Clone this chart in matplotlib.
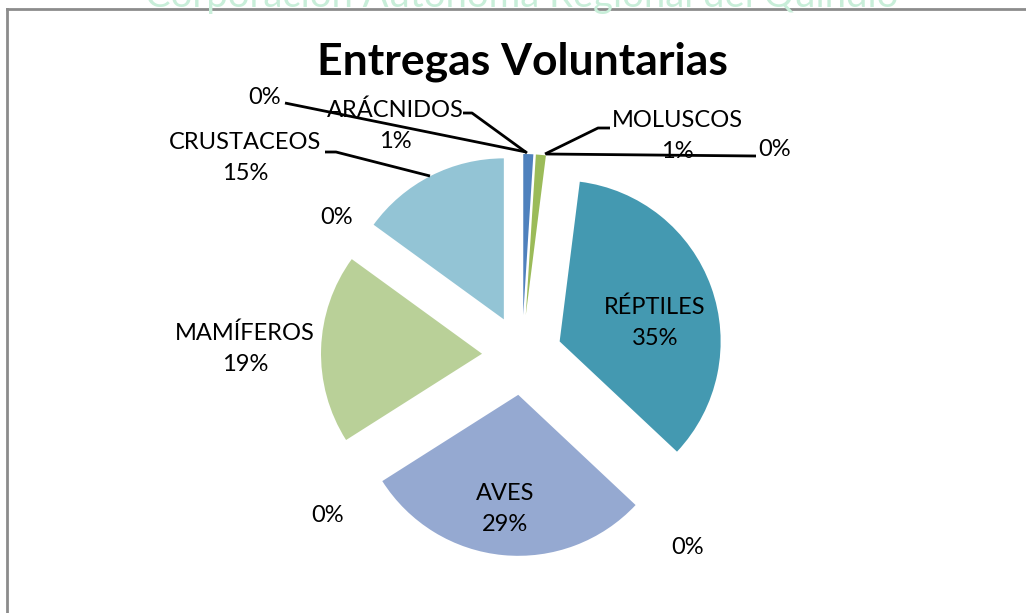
import matplotlib
matplotlib.use("Agg")
import matplotlib.pyplot as plt

# data (Excel exploded pie, clockwise from 12 o'clock)
categories = ["ARÁCNIDOS", "", "MOLUSCOS", "", "RÉPTILES", "", "AVES", "",
              "MAMÍFEROS", "", "CRUSTACEOS"]
shares = [1, 0, 1, 0, 35, 0, 29, 0, 19, 0, 15]
colors = ["#4F81BD", "#C0504D", "#9BBB59", "#8064A2", "#4499B1", "#F79646",
          "#95A9D1", "#D99694", "#B9D098", "#B3A2C7", "#93C4D5"]
title = "Entregas Voluntarias"
watermark = "Corporación Autónoma Regional del Quindío"

W, H = 1026, 613
FONT = ["Lato", "DejaVu Sans"]

fig = plt.figure(figsize=(W / 100, H / 100), dpi=100)
ax = fig.add_axes([0, 0, 1, 1])


def py(y):
    # image row -> data y
    return H - y


# pie in pixel units
cx, cy, r = 522, py(355), 161
ax.pie(shares, colors=colors, startangle=90, counterclock=False,
       center=(cx, cy), radius=r, explode=[40] * len(shares),
       wedgeprops=dict(linewidth=0), frame=True)
ax.set_xlim(0, W)
ax.set_ylim(0, H)
ax.set_aspect("equal")
ax.axis("off")

# label positions (image pixels) for each slice, in slice order
label_pos = [(395, 126), (265, 97), (677, 136), (775, 150), (655, 323),
             (688, 548), (505, 509), (328, 515), (245, 349), (337, 218),
             (245, 158)]
for name, val, (lx, ly) in zip(categories, shares, label_pos):
    txt = f"{name}\n{val}%" if name else f"{val}%"
    ax.text(lx, py(ly), txt, ha="center", va="center", fontsize=17,
            family=FONT, linespacing=1.6, color="black")

# leader lines
leaders = [
    [(463, 113), (472, 113), (527, 153)],      # aracnidos
    [(285, 103), (526, 152)],                  # 0% top-left
    [(610, 128), (598, 128), (545, 154)],      # moluscos
    [(546, 154), (756, 156)],                  # 0% right
    [(325, 152), (336, 152), (430, 176)],      # crustaceos
]
for seg in leaders:
    xs = [p[0] for p in seg]
    ys = [py(p[1]) for p in seg]
    ax.plot(xs, ys, color="black", lw=2, solid_capstyle="butt")

ax.text(522, py(62), title, ha="center", va="center", fontsize=32,
        fontweight="bold", family=FONT)

# faint watermark, mostly above the top edge of the picture
ax.text(522, py(7), watermark, ha="center", va="baseline", fontsize=27.5,
        family=FONT, color="#C8EED9", clip_on=False)

# chart frame (top and left edges visible)
ax.plot([7, W], [py(9), py(9)], color="#8C8C8C", lw=2)
ax.plot([7, 7], [py(9), 0], color="#8C8C8C", lw=2)

fig.savefig("out.png", dpi=100)
